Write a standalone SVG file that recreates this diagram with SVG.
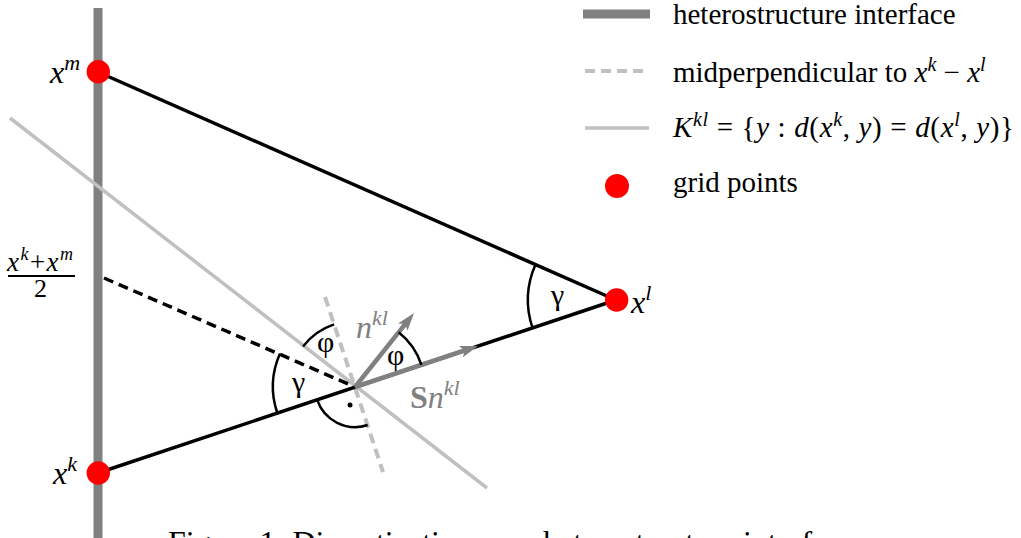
<svg xmlns="http://www.w3.org/2000/svg" width="1021" height="538" viewBox="0 0 1021 538">
<style>
text{font-family:"Liberation Serif","Times New Roman",serif;fill:#000}
.it{font-style:italic}
.leg{font-size:29px}
.big{font-size:32px}
.gray{fill:#808080}
.blk{stroke:#000;stroke-width:3.5;fill:none}
.dash{stroke:#000;stroke-width:3.5;stroke-dasharray:10 6;fill:none}
.lg{stroke:#c0c0c0;stroke-width:3.5;fill:none}
.lgd{stroke:#c0c0c0;stroke-width:4;stroke-dasharray:10 6;fill:none}
.arc{stroke:#000;stroke-width:2.5;fill:none}
.vec{stroke:#808080;stroke-width:4.5;fill:none}
.pt{fill:#ff0000}
</style>
<defs>
<marker id="ah" viewBox="0 0 18 12" markerWidth="18" markerHeight="12" refX="10" refY="6" orient="auto" markerUnits="userSpaceOnUse">
<path d="M0,0 L18,6 L0,12 L4,6 z" fill="#808080"/>
</marker>
</defs>
<g id="interface">
<line x1="98" y1="8" x2="98" y2="538" stroke="#808080" stroke-width="9"/>
</g>
<g id="connectors">
<line class="lg" x1="10" y1="118" x2="487" y2="488"/>
<line class="lgd" x1="325" y1="297" x2="383" y2="472"/>
<line class="blk" x1="98" y1="72" x2="616" y2="300"/>
<line class="blk" x1="98" y1="473" x2="616" y2="300"/>
<line class="dash" x1="104" y1="278" x2="355" y2="387"/>
<line class="vec" x1="355" y1="387" x2="409" y2="319.3" marker-end="url(#ah)"/>
<line class="vec" x1="355" y1="387" x2="470.4" y2="348.5" marker-end="url(#ah)"/>
</g>
<g id="angles">
<path class="arc" d="M535.5,264.5 A88,88 0 0 0 532.5,327.9"/>
<path class="arc" d="M280,353.5 A82,82 0 0 0 277.3,413"/>
<path class="arc" d="M303,346.4 A66,66 0 0 1 334.1,324.4"/>
<path class="arc" d="M398.7,332.3 A70,70 0 0 1 421.4,364.8"/>
<path class="arc" d="M317.1,399.7 A40,40 0 0 0 367.7,425"/>
<circle cx="350" cy="405" r="2.5" fill="#000"/>
</g>
<g id="xm">
<circle class="pt" cx="98.3" cy="71.7" r="11.7"/>
<text class="big it" x="50" y="83">x<tspan dy="-13" font-size="22">m</tspan></text>
</g>
<g id="xk">
<circle class="pt" cx="98.3" cy="473" r="11.7"/>
<text class="big it" x="53" y="484">x<tspan dy="-13" font-size="22">k</tspan></text>
</g>
<g id="xl">
<circle class="pt" cx="616.7" cy="300" r="11.7"/>
<text class="big it" x="631" y="313">x<tspan dy="-13" font-size="22">l</tspan></text>
</g>
<g id="mid">
<text class="it" x="7" y="271" font-size="27" textLength="66" lengthAdjust="spacing">x<tspan dy="-11" font-size="18">k</tspan><tspan dy="11" font-style="normal">+</tspan>x<tspan dy="-11" font-size="18">m</tspan></text>
<line x1="8" y1="276" x2="75" y2="276" stroke="#000" stroke-width="2"/>
<text x="34" y="297" font-size="26">2</text>
</g>
<g id="labels">
<text x="551" y="305" font-size="30">γ</text>
<text x="292" y="392" font-size="30">γ</text>
<text x="317" y="352" font-size="30">φ</text>
<text x="387" y="365" font-size="30">φ</text>
<text class="big it gray" x="356" y="338">n<tspan dy="-13" font-size="22">kl</tspan></text>
<text class="big gray" x="410" y="408"><tspan font-weight="bold">S</tspan><tspan font-style="italic">n</tspan><tspan dy="-13" font-size="22" font-style="italic">kl</tspan></text>
</g>
<g id="legend">
<line x1="583" y1="14" x2="650" y2="14" stroke="#808080" stroke-width="9"/>
<text class="leg" x="673" y="24">heterostructure interface</text>
<line class="lgd" x1="585" y1="71" x2="649" y2="71"/>
<text class="leg" x="673" y="82">midperpendicular to <tspan class="it">x</tspan><tspan class="it" dy="-11" font-size="20">k</tspan><tspan dy="11"> − </tspan><tspan class="it">x</tspan><tspan class="it" dy="-11" font-size="20">l</tspan></text>
<line class="lg" x1="585" y1="128" x2="649" y2="128"/>
<text class="leg" x="673" y="137" textLength="341" lengthAdjust="spacing"><tspan class="it">K</tspan><tspan class="it" dy="-11" font-size="20">kl</tspan><tspan dy="11"> = {</tspan><tspan class="it">y</tspan> : <tspan class="it">d</tspan>(<tspan class="it">x</tspan><tspan class="it" dy="-11" font-size="20">k</tspan><tspan dy="11">, </tspan><tspan class="it">y</tspan>) = <tspan class="it">d</tspan>(<tspan class="it">x</tspan><tspan class="it" dy="-11" font-size="20">l</tspan><tspan dy="11">, </tspan><tspan class="it">y</tspan>)}</text>
<circle class="pt" cx="617" cy="186" r="12"/>
<text class="leg" x="673" y="192">grid points</text>
</g>
<g id="caption">
<text x="168" y="553" font-size="32">Figure 1: Discretization near heterostructure interface</text>
</g>
</svg>
